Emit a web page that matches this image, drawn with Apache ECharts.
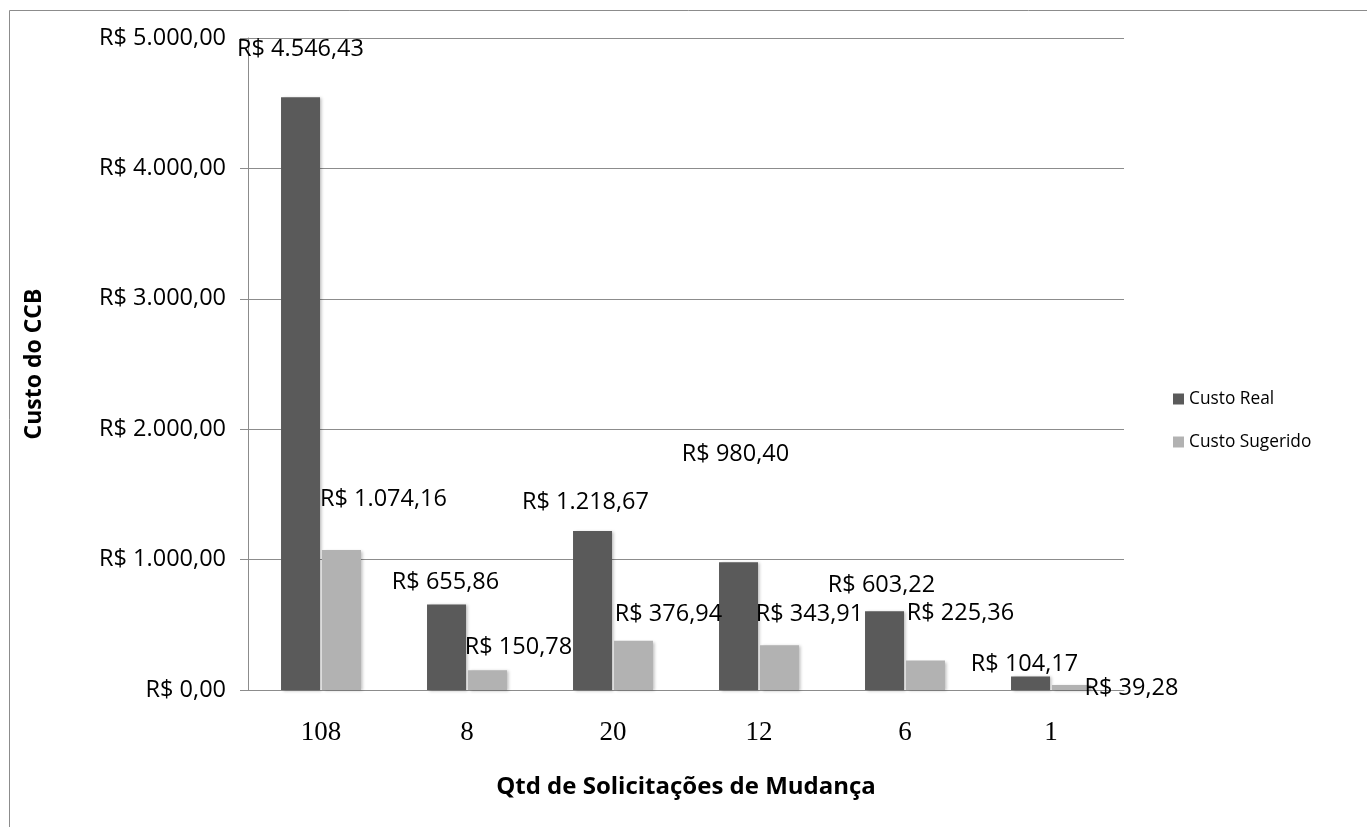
<!DOCTYPE html>
<html>
<head>
<meta charset="utf-8">
<script src="https://cdn.jsdelivr.net/npm/echarts@6/dist/echarts.min.js"></script>
<style>
  html, body { margin: 0; padding: 0; background: #fff; }
  #main { width: 1367px; height: 827px; }
</style>
</head>
<body>
<div id="main"></div>
<script>
// dados
var quantidades = ['108', '8', '20', '12', '6', '1'];
var custoReal = [4546.43, 655.86, 1218.67, 980.40, 603.22, 104.17];
var custoSugerido = [1074.16, 150.78, 376.94, 343.91, 225.36, 39.28];
var yTicks = [0, 1000, 2000, 3000, 4000, 5000];

// deslocamento dos rotulos (como foram arrastados no original)
var realLabelShift = [[0, -40], [-1, -14], [-7, -21], [-3, -100], [-3, -18], [-6, -4]];
var sugeridoLabelShift = [[42, -43], [31, -15], [35, -19], [30, -23], [35, -39], [60, 11]];

var font = '"Open Sans", Lato, sans-serif';

function reais(v) {
    var parts = Number(v).toFixed(2).split('.');
    var inteiro = parts[0].replace(/\B(?=(\d{3})+(?!\d))/g, '.');
    return 'R$ ' + inteiro + ',' + parts[1];
}

function buildData(values, shifts) {
    return values.map(function (v, i) {
        return { value: v, label: { offset: shifts[i] } };
    });
}

var labelStyle = {
    show: true,
    position: 'top',
    distance: 0,
    lineHeight: 16,
    color: '#000',
    fontFamily: font,
    fontSize: 23.5,
    formatter: function (p) { return reais(p.value); }
};

var barShadow = {
    shadowBlur: 3,
    shadowOffsetX: 2,
    shadowOffsetY: 1,
    shadowColor: 'rgba(0,0,0,0.25)'
};

var chart = echarts.init(document.getElementById('main'));
chart.setOption({
    animation: false,
    backgroundColor: '#fff',
    graphic: [{
        type: 'rect',
        shape: { x: 9.5, y: 10.5, width: 1400, height: 900 },
        style: { fill: 'none', stroke: '#8c8c8c', lineWidth: 1 }
    }],
    legend: {
        orient: 'vertical',
        left: 1168,
        top: 384,
        itemWidth: 11,
        itemHeight: 11,
        itemGap: 23,
        icon: 'rect',
        textStyle: { fontFamily: font, fontSize: 17.3, lineHeight: 20, color: '#000' },
        data: ['Custo Real', 'Custo Sugerido']
    },
    grid: {
        left: 248,
        right: 243,
        top: 38,
        bottom: 137
    },
    xAxis: {
        type: 'category',
        data: quantidades,
        name: 'Qtd de Solicitações de Mudança',
        nameLocation: 'middle',
        nameGap: 85,
        nameTextStyle: { fontFamily: font, fontSize: 24, fontWeight: 'bold', color: '#000' },
        axisLine: { lineStyle: { color: '#8c8c8c' } },
        axisTick: { show: false },
        axisLabel: { margin: 29, fontFamily: '"Liberation Serif", serif', fontSize: 27, color: '#000' }
    },
    yAxis: {
        type: 'value',
        min: 0,
        max: 5000,
        interval: 1000,
        name: 'Custo do CCB',
        nameLocation: 'middle',
        nameRotate: 90,
        nameGap: 202,
        nameTextStyle: { fontFamily: font, fontSize: 23, fontWeight: 'bold', color: '#000' },
        axisLine: { show: true, lineStyle: { color: '#8c8c8c' } },
        axisTick: { show: true, length: 8, lineStyle: { color: '#8c8c8c' } },
        splitLine: { lineStyle: { color: '#8c8c8c' } },
        axisLabel: {
            margin: 22,
            fontFamily: font,
            fontSize: 23.5,
            color: '#000',
            formatter: function (v) { return yTicks.indexOf(v) >= 0 ? reais(v) : ''; }
        }
    },
    series: [
        {
            name: 'Custo Real',
            type: 'bar',
            barWidth: 39,
            barGap: '5%',
            itemStyle: Object.assign({ color: '#5a5a5a' }, barShadow),
            label: labelStyle,
            data: buildData(custoReal, realLabelShift)
        },
        {
            name: 'Custo Sugerido',
            type: 'bar',
            barWidth: 39,
            barGap: '5%',
            itemStyle: Object.assign({ color: '#b2b2b2' }, barShadow),
            label: labelStyle,
            data: buildData(custoSugerido, sugeridoLabelShift)
        }
    ]
});
</script>
</body>
</html>
